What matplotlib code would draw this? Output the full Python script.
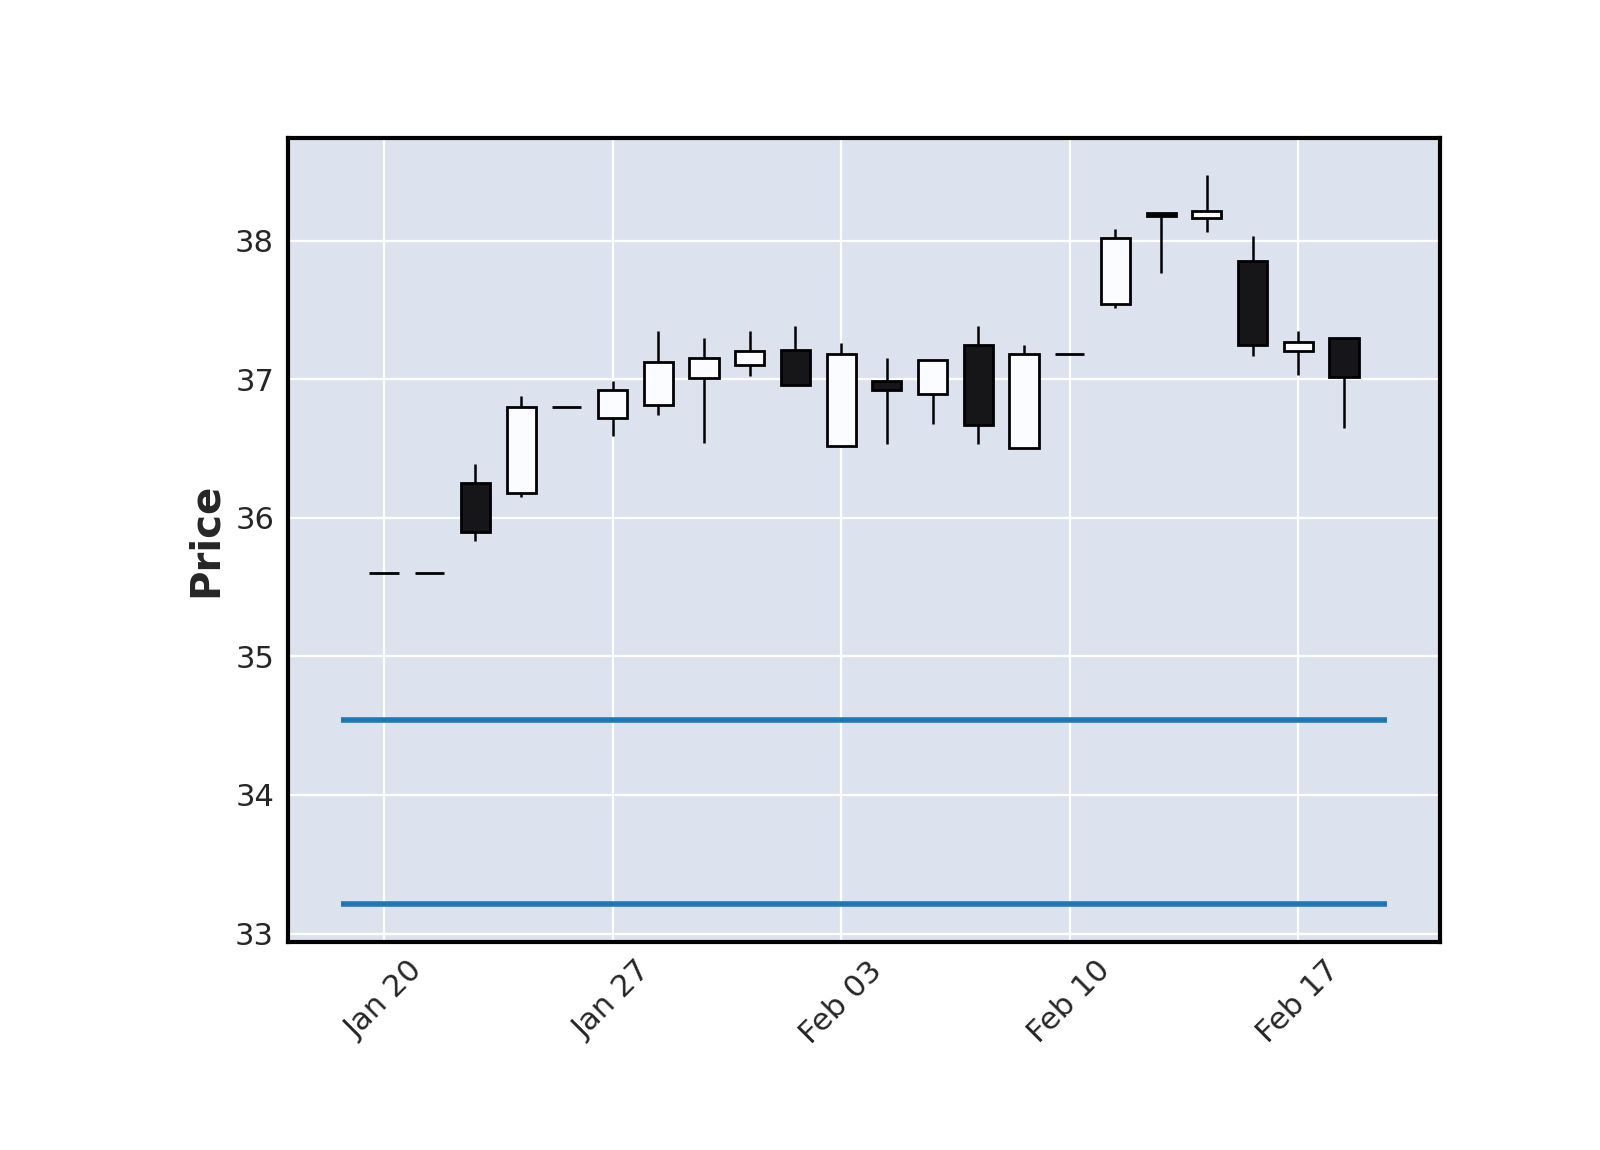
import numpy as np
import matplotlib
matplotlib.use("Agg")
import matplotlib.pyplot as plt

dates = ["Jan 20", "Jan 21", "Jan 22", "Jan 23", "Jan 24",
         "Jan 27", "Jan 28", "Jan 29", "Jan 30", "Jan 31",
         "Feb 03", "Feb 04", "Feb 05", "Feb 06", "Feb 07",
         "Feb 10", "Feb 11", "Feb 12", "Feb 13", "Feb 14",
         "Feb 17", "Feb 18"]
opens  = [35.60, 35.60, 36.25, 36.18, 36.80, 36.72, 36.81, 37.01, 37.10, 37.21,
          36.52, 36.99, 36.89, 37.25, 36.50, 37.18, 37.54, 38.20, 38.16, 37.85,
          37.20, 37.30]
highs  = [35.60, 35.60, 36.39, 36.875, 36.80, 36.99, 37.35, 37.30, 37.345, 37.38,
          37.26, 37.155, 37.14, 37.38, 37.25, 37.18, 38.08, 38.20, 38.47, 38.03,
          37.345, 37.30]
lows   = [35.60, 35.60, 35.83, 36.15, 36.80, 36.59, 36.74, 36.54, 37.02, 36.96,
          36.51, 36.53, 36.68, 36.53, 36.50, 37.18, 37.51, 37.765, 38.06, 37.17,
          37.03, 36.65]
closes = [35.60, 35.60, 35.90, 36.80, 36.80, 36.92, 37.125, 37.155, 37.20, 36.96,
          37.18, 36.92, 37.14, 36.67, 37.18, 37.18, 38.02, 38.18, 38.21, 37.25,
          37.27, 37.015]
hline_levels = [34.54, 33.21]
tick_idx = [0, 5, 10, 15, 20]

x = np.arange(len(dates))
o = np.array(opens); c = np.array(closes)
h = np.array(highs); l = np.array(lows)
up = c >= o
colors = np.where(up, "#fafcff", "#161618")

txt = "#262626"
fig = plt.figure(figsize=(8, 5.75), dpi=200)
ax = fig.add_axes([0.18, 0.181, 0.72, 0.699])
ax.set_facecolor("#DCE3EF")
ax.grid(True, color="white", linewidth=0.8)
ax.set_axisbelow(True)

# wicks
ax.vlines(x, l, h, color="black", linewidth=0.9, zorder=2)
# bodies
ax.bar(x, np.abs(c - o), width=0.64, bottom=np.minimum(o, c),
       color=colors, edgecolor="black", linewidth=1.0, zorder=3)

for lev in hline_levels:
    ax.hlines(lev, -0.95, len(dates) - 0.05, color="#1f77b4", linewidth=2.0, zorder=4)

ax.set_xlim(-2.1, 23.1)
ax.set_ylim(32.94, 38.74)
ax.set_xticks(tick_idx)
ax.set_xticklabels([dates[i] for i in tick_idx], rotation=45, ha="center")
ax.tick_params(length=0, labelsize=11, pad=5, labelcolor=txt)
ax.set_ylabel("Price", fontsize=14.5, fontweight="bold", color=txt, labelpad=3.5)
for s in ax.spines.values():
    s.set_linewidth(1.5)
    s.set_color("black")

fig.savefig("out.png", dpi=200)
